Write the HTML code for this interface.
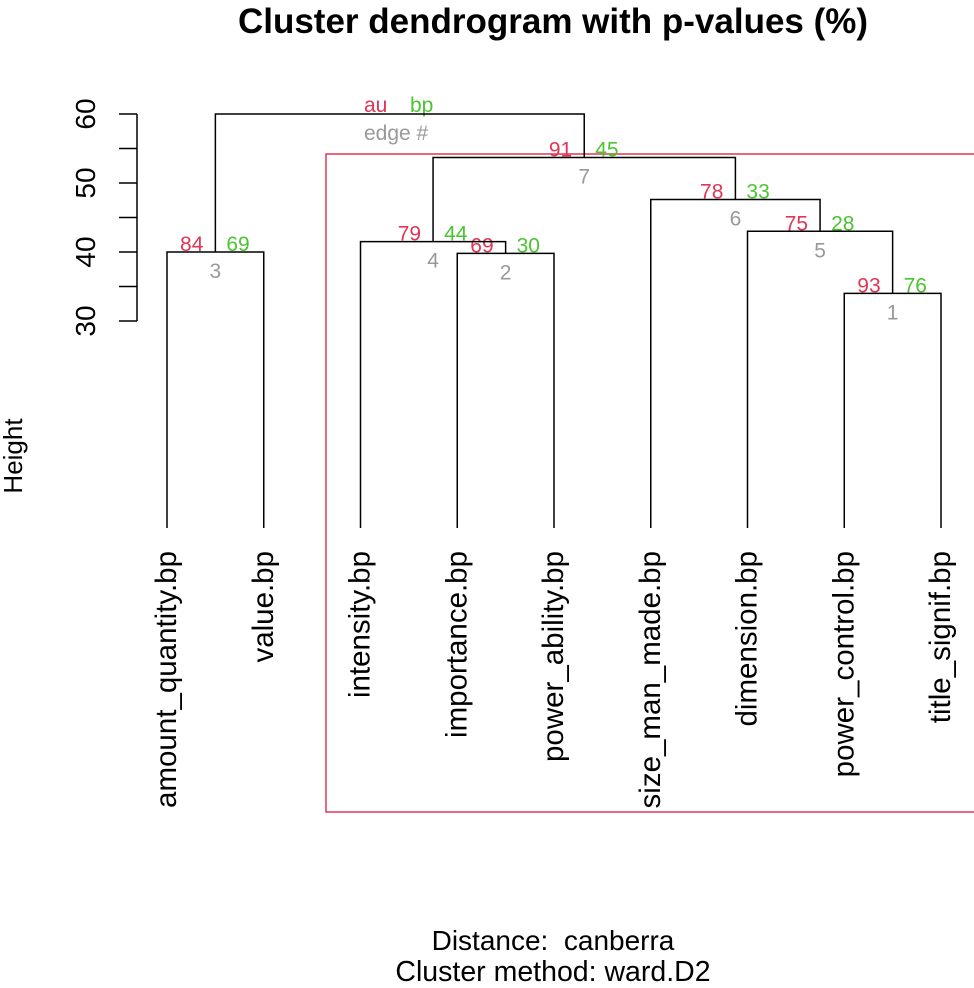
<!DOCTYPE html>
<html><head><meta charset="utf-8"><style>
body{margin:0;background:#fff}
svg{display:block;font-family:"Liberation Sans",Arial,sans-serif}
</style></head><body>
<svg id="chart" width="974" height="988" viewBox="0 0 974 988">
<text x="553" y="33" text-anchor="middle" font-size="35" font-weight="bold">Cluster dendrogram with p-values (%)</text>
<text transform="translate(22,456) rotate(-90)" text-anchor="middle" font-size="26">Height</text>
<text x="553" y="950" text-anchor="middle" font-size="28">Distance:&#160; canberra</text>
<text x="553" y="981" text-anchor="middle" font-size="28.5">Cluster method: ward.D2</text>
<text x="364" y="112" font-size="21" fill="#df3655">au</text>
<text x="410" y="112" font-size="21" fill="#4bc431">bp</text>
<text x="364" y="140" font-size="21" fill="#999">edge #</text>
<rect x="326" y="154" width="660" height="658" fill="none" stroke="#df3655" stroke-width="1.5"/>
<g id="g"></g>
</svg>
<script>
const leaves=["amount_quantity.bp","value.bp","intensity.bp","importance.bp","power_ability.bp","size_man_made.bp","dimension.bp","power_control.bp","title_signif.bp"];
// merges: negative = leaf index (1-based), positive = earlier merge
const mergeLeft=[-8,-4,-1,-3,-7,-6,4,3];
const mergeRight=[-9,-5,-2,2,1,5,6,7];
const heights=[34,39.8,40,41.5,43,47.6,53.7,60];
const au=[93,69,84,79,75,78,91,null];
const bp=[76,30,69,44,28,33,45,null];
const yTicks=[30,35,40,45,50,55,60];
const yTickLabels=[30,40,50,60];
const ns="http://www.w3.org/2000/svg";
const g=document.getElementById('g');
const X=i=>167+i*96.75;
const Y=h=>114+(60-h)*6.9;
const leafBottom=528;
function add(tag,attrs,text){const e=document.createElementNS(ns,tag);for(const k in attrs)e.setAttribute(k,attrs[k]);if(text!=null)e.textContent=text;g.appendChild(e);return e;}
const ax=add('line',{x1:137,x2:137,y1:Y(60),y2:Y(30),stroke:'#000','stroke-width':1.5});


yTicks.forEach(t=>{
  const l=add('line',{x1:119,x2:137,y1:Y(t),y2:Y(t),stroke:'#000','stroke-width':1.5});
  
  
});
yTickLabels.forEach(t=>{
  const tx=add('text',{transform:`translate(95,${Y(t)}) rotate(-90)`,'text-anchor':'middle','font-size':28},t);
  
  
});
const pos=[];
function node(r){return r<0?{x:X(-r-1),y:leafBottom}:pos[r-1];}
heights.forEach((h,i)=>{
  const a=node(mergeLeft[i]),b=node(mergeRight[i]);const y=Y(h);
  const p=add('path',{d:`M${a.x},${a.y}V${y}H${b.x}V${b.y}`,fill:'none',stroke:'#000','stroke-width':1.5});
  
  
  const x=(a.x+b.x)/2;pos.push({x,y});
  if(au[i]!=null){
    const t1=add('text',{x:x-12,y:y-1,'text-anchor':'end','font-size':21,fill:'#df3655'},au[i]);
    
    
    const t2=add('text',{x:x+11,y:y-1,'font-size':21,fill:'#4bc431'},bp[i]);
    
    
    const t3=add('text',{x:x,y:y+26,'text-anchor':'middle','font-size':21,fill:'#999'},i+1);
    
    
  }
});
leaves.forEach((n,i)=>{
  const t=add('text',{transform:`translate(${X(i)+9},551) rotate(-90)`,'text-anchor':'end','font-size':29.5},n);
  
  
});
</script>
</body></html>
